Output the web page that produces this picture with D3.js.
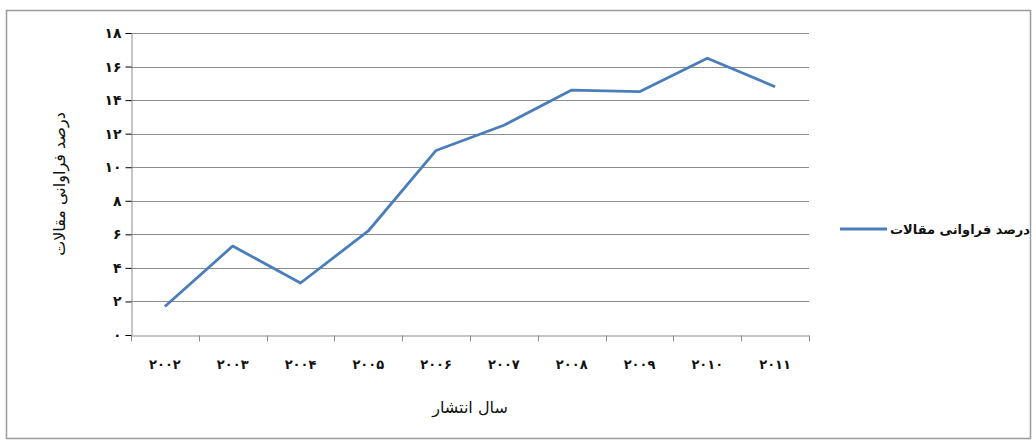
<!DOCTYPE html>
<html>
<head>
<meta charset="utf-8">
<script src="https://cdn.jsdelivr.net/npm/d3@7"></script>
<style>
  body { margin: 0; background: #fff; }
  text { font-family: "DejaVu Sans", sans-serif; fill: #111; }
</style>
</head>
<body>
<div id="chart"></div>
<script>
// data
var years = ["2002", "2003", "2004", "2005", "2006", "2007", "2008", "2009", "2010", "2011"];
var values = [1.7, 5.3, 3.1, 6.2, 11.0, 12.5, 14.6, 14.5, 16.5, 14.8];
var yTicks = [0, 2, 4, 6, 8, 10, 12, 14, 16, 18];
var seriesName = "درصد فراوانی مقالات";
var yTitle = "درصد فراوانی مقالات";
var xTitle = "سال انتشار";

// western digits -> persian digits
var fa = "۰۱۲۳۴۵۶۷۸۹";
function toFa(s) {
    return String(s).replace(/[0-9]/g, function(c) { return fa[+c]; });
}

var W = 1036, H = 442;
var margin = {top: 33, right: 227, bottom: 107, left: 131},
    width = W - margin.left - margin.right,
    height = H - margin.top - margin.bottom;

var svg = d3.select("#chart")
    .append("svg")
    .attr("width", W)
    .attr("height", H);

// outer frame
svg.append("rect")
    .attr("x", 6.5).attr("y", 10.5)
    .attr("width", 1024).attr("height", 428)
    .attr("fill", "none")
    .attr("stroke", "#9a9a9a")
    .attr("stroke-width", 1.5);

var g = svg.append("g")
    .attr("transform", "translate(" + margin.left + "," + margin.top + ")");

var x = d3.scaleBand()
    .domain(years)
    .range([0, width]);

var y = d3.scaleLinear()
    .domain([0, 18])
    .range([height, 0]);

// gridlines
g.append("g")
    .selectAll("line")
    .data(yTicks.filter(function(d) { return d > 0; }))
    .enter().append("line")
    .attr("x1", 0).attr("x2", width)
    .attr("y1", function(d) { return Math.round(y(d)) + 0.5; })
    .attr("y2", function(d) { return Math.round(y(d)) + 0.5; })
    .attr("stroke", "#8c8c8c")
    .attr("stroke-width", 1);

// y axis
var yAxis = g.append("g")
    .attr("transform", "translate(0.5,0)")
    .call(d3.axisLeft(y).tickValues(yTicks).tickSize(6).tickPadding(4)
        .tickFormat(function(d) { return toFa(d); }));
yAxis.selectAll("text").style("font-size", "14px").style("font-weight", "bold");

// x axis (ticks between categories)
var xAxis = g.append("g")
    .attr("transform", "translate(0," + (Math.round(height) + 0.5) + ")")
    .call(d3.axisBottom(x).tickSize(0).tickPadding(24)
        .tickFormat(function(d) { return toFa(d); }));
xAxis.selectAll("text").style("font-size", "13px").style("font-weight", "bold");

var bounds = x.domain().map(function(d) { return x(d); }).concat([width]);
xAxis.selectAll(".sep")
    .data(bounds)
    .enter().append("line")
    .attr("class", "sep")
    .attr("x1", function(d) { return Math.round(d) + 0.5; })
    .attr("x2", function(d) { return Math.round(d) + 0.5; })
    .attr("y1", 0).attr("y2", 6)
    .attr("stroke", "#8c8c8c");

g.selectAll(".domain").attr("stroke", "#8c8c8c");

// the line
g.append("path")
    .datum(values)
    .attr("fill", "none")
    .attr("stroke", "#4a7ebb")
    .attr("stroke-width", 2.8)
    .attr("stroke-linejoin", "round")
    .attr("d", d3.line()
        .x(function(d, i) { return x(years[i]) + x.bandwidth() / 2; })
        .y(function(d) { return y(d); })
    );

// axis titles
svg.append("text")
    .attr("transform", "translate(60," + (margin.top + height / 2) + ") rotate(-90)")
    .attr("text-anchor", "middle")
    .attr("dominant-baseline", "middle")
    .style("font-size", "16px")
    .text(yTitle);

svg.append("text")
    .attr("x", margin.left + width / 2)
    .attr("y", 413)
    .attr("text-anchor", "middle")
    .style("font-size", "16px")
    .text(xTitle);

// legend
var lg = svg.append("g").attr("transform", "translate(840,229)");
lg.append("line")
    .attr("x1", 0).attr("x2", 47)
    .attr("stroke", "#4a7ebb")
    .attr("stroke-width", 2.8);
lg.append("text")
    .attr("x", 50)
    .attr("y", 5)
    .attr("text-anchor", "start")
    .style("font-size", "13px")
    .style("font-weight", "bold")
    .text(seriesName);
</script>
</body>
</html>
